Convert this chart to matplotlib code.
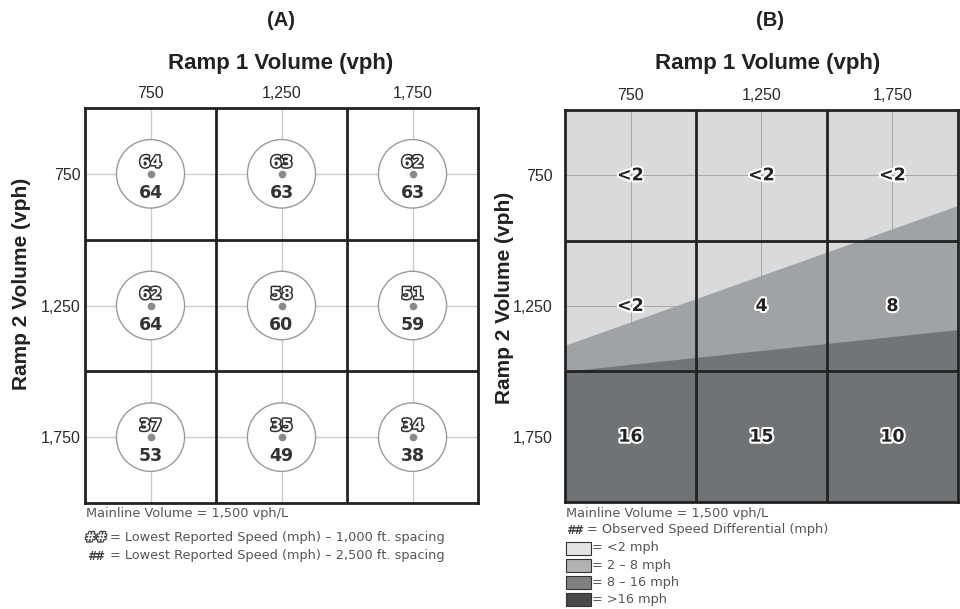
import matplotlib
matplotlib.use("Agg")
import matplotlib.pyplot as plt
import matplotlib.patheffects as pe
from matplotlib.patches import Circle, Rectangle

# ramp volumes (vph)
ramp1_labels = ['750', '1,250', '1,750']
ramp2_labels = ['750', '1,250', '1,750']

# lowest reported speed (mph), rows = ramp 2, cols = ramp 1
speed_1000 = [[64, 63, 62],
              [62, 58, 51],
              [37, 35, 34]]
speed_2500 = [[64, 63, 63],
              [64, 60, 59],
              [53, 49, 38]]

# observed speed differential (mph)
speed_diff = [['<2', '<2', '<2'],
              ['<2', '4', '8'],
              ['16', '15', '10']]

# shading bands in panel B (cell units, 0 = top edge, 3 = bottom edge)
band_x = [0, 3]
edge_light = [1.80, 0.73]   # below this: 2 - 8 mph
edge_dark = [2.00, 1.68]    # below this: 8 - 16 mph

legend_labels = ['= <2 mph', '= 2 \u2013 8 mph', '= 8 \u2013 16 mph', '= >16 mph']
legend_colors = ['#e4e4e4', '#b2b2b2', '#808080', '#4a4a4a']

W, H = 960, 609


def fx(x):
    return x / W


def fy(y):
    return 1 - y / H


def make_axes(fig, x0, y0, x1, y1):
    ax = fig.add_axes([fx(x0), fy(y1), (x1 - x0) / W, (y1 - y0) / H])
    ax.set_xlim(0, 3)
    ax.set_ylim(3, 0)
    ax.xaxis.tick_top()
    ax.set_xticks([0.5, 1.5, 2.5], ramp1_labels)
    ax.set_yticks([0.5, 1.5, 2.5], ramp2_labels)
    ax.tick_params(length=0, labelsize=11.5, labelcolor='#2a2a2a')
    for lbl in ax.get_xticklabels() + ax.get_yticklabels():
        lbl.set_family('Liberation Sans')
    for s in ax.spines.values():
        s.set_linewidth(2)
        s.set_color('#222222')
        s.set_zorder(10)
    return ax


def cell_borders(ax):
    for v in [1, 2]:
        ax.axvline(v, color='#222222', lw=2, zorder=9)
        ax.axhline(v, color='#222222', lw=2, zorder=9)


fig = plt.figure(figsize=(9.6, 6.09), dpi=100)
fig.patch.set_facecolor('white')

halo_dark = [pe.withStroke(linewidth=2.2, foreground='#333333')]
halo_white = [pe.withStroke(linewidth=3, foreground='white')]

# ---------------- panel A ----------------
axA = make_axes(fig, 85, 108, 478, 503)
axA.tick_params(axis='x', pad=5)
axA.tick_params(axis='y', pad=3)
for c in [0.5, 1.5, 2.5]:
    axA.axvline(c, color='#cccccc', lw=1, zorder=1)
    axA.axhline(c, color='#cccccc', lw=1, zorder=1)
cell_borders(axA)
for i in range(3):
    for j in range(3):
        cx, cy = j + 0.5, i + 0.5
        axA.add_patch(Circle((cx, cy), 0.26, facecolor='white', edgecolor='#9a9a9a', lw=1, zorder=3))
        axA.plot(cx, cy, 'o', color='#8a8a8a', ms=4.5, zorder=4)
        axA.text(cx, cy - 0.085, str(speed_1000[i][j]), ha='center', va='center', fontsize=11.5,
                 fontweight='bold', color='white', family='DejaVu Sans', path_effects=halo_dark, zorder=5)
        axA.text(cx, cy + 0.145, str(speed_2500[i][j]), ha='center', va='center', fontsize=12.5,
                 fontweight='bold', color='#333333', family='DejaVu Sans', zorder=5)

# ---------------- panel B ----------------
axB = make_axes(fig, 565, 110, 958, 502)
axB.tick_params(axis='x', pad=5)
axB.tick_params(axis='y', pad=9)
axB.add_patch(Rectangle((0, 0), 3, 3, facecolor='#d9dadc', edgecolor='none', zorder=0))
for c in [0.5, 1.5, 2.5]:
    axB.axvline(c, color='#a8a8a8', lw=0.7, zorder=1)
    axB.axhline(c, color='#a8a8a8', lw=0.7, zorder=1)
axB.fill_between(band_x, edge_light, 3, color='#a0a3a6', lw=0, zorder=2)
axB.fill_between(band_x, edge_dark, 3, color='#727578', lw=0, zorder=3)
axB.fill_between([0, 3], 2, 3, color='#707376', lw=0, zorder=3)
cell_borders(axB)
for i in range(3):
    for j in range(3):
        axB.text(j + 0.5, i + 0.5, speed_diff[i][j], ha='center', va='center', fontsize=12.5,
                 fontweight='bold', color='#222222', family='DejaVu Sans', path_effects=halo_white, zorder=6)

# ---------------- titles and labels ----------------
for x, t in [(281, '(A)'), (770, '(B)')]:
    fig.text(fx(x), fy(20), t, ha='center', va='center', fontsize=14.5, fontweight='bold',
             family='Liberation Sans', color='#222222')
for x in [281, 768]:
    fig.text(fx(x), fy(63), 'Ramp 1 Volume (vph)', ha='center', va='center', fontsize=16,
             fontweight='bold', family='Liberation Sans', color='#222222')
fig.text(fx(22), fy(284), 'Ramp 2 Volume (vph)', ha='center', va='center', rotation=90,
         fontsize=15, fontweight='bold', family='Liberation Sans', color='#222222')
fig.text(fx(505), fy(298), 'Ramp 2 Volume (vph)', ha='center', va='center', rotation=90,
         fontsize=15, fontweight='bold', family='Liberation Sans', color='#222222')

# ---------------- notes A ----------------
note = dict(fontsize=9.3, family='DejaVu Sans', color='#555555', va='center')
fig.text(fx(86), fy(514), 'Mainline Volume = 1,500 vph/L', **note)
fig.text(fx(85), fy(538), '##', fontsize=9.5, fontweight='bold', color='white', family='DejaVu Sans',
         va='center', path_effects=[pe.withStroke(linewidth=1.8, foreground='#444444')])
fig.text(fx(110), fy(538), '= Lowest Reported Speed (mph) \u2013 1,000 ft. spacing', **note)
fig.text(fx(87), fy(556), '##', fontsize=8.5, fontweight='bold', style='italic', color='#444444',
         family='DejaVu Sans', va='center')
fig.text(fx(110), fy(555), '= Lowest Reported Speed (mph) \u2013 2,500 ft. spacing', **note)

# ---------------- notes / legend B ----------------
fig.text(fx(566), fy(514), 'Mainline Volume = 1,500 vph/L', **note)
fig.text(fx(566), fy(530), '##', fontsize=8.5, fontweight='bold', style='italic', color='#444444',
         family='DejaVu Sans', va='center')
fig.text(fx(587), fy(530), '= Observed Speed Differential (mph)', **note)
for k, (lab, col) in enumerate(zip(legend_labels, legend_colors)):
    yc = 548 + k * 17.3
    fig.add_artist(Rectangle((fx(566), fy(yc + 6.5)), 25 / W, 13 / H, transform=fig.transFigure,
                             facecolor=col, edgecolor='#333333', lw=0.8))
    fig.text(fx(592), fy(yc), lab, **note)

fig.savefig('out.png', dpi=100)
